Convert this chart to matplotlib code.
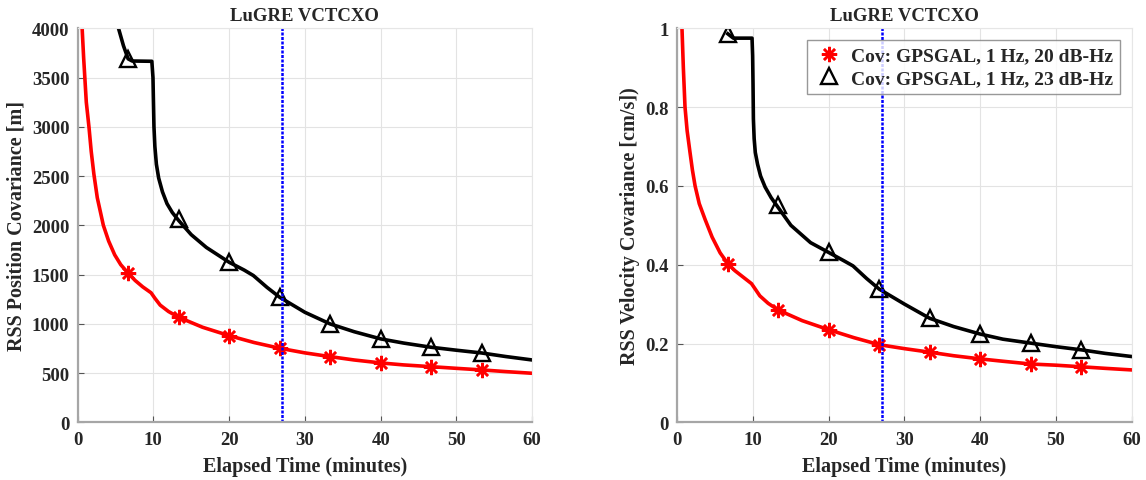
import matplotlib.pyplot as plt

plt.rcParams['font.family'] = ['Liberation Serif', 'DejaVu Serif']
plt.rcParams['font.weight'] = 'bold'

# marker epochs (minutes)
mark_t = [6.67, 13.33, 20, 26.67, 33.33, 40, 46.67, 53.33]

# position covariance, 20 dB-Hz (red)
pos20_t = [0.45, 0.6, 0.8, 1.15, 1.5, 1.8, 2.15, 2.6, 3.4, 4.1, 4.9, 5.7, 6.67, 7.6, 8.6, 9.7,
           10.2, 10.9, 12.0, 13.33, 16.5, 20, 23.3, 26.67, 30, 33.33, 36.5, 40, 43, 46.67,
           50, 53.33, 56.5, 60]
pos20 = [4300, 4000, 3700, 3250, 3000, 2750, 2520, 2280, 2000, 1840, 1700, 1600, 1515, 1440,
         1375, 1315, 1260, 1190, 1125, 1067, 965, 880, 810, 752, 705, 667, 633, 603, 583, 565,
         548, 532, 515, 498]
pos20_mk = [1515, 1067, 880, 752, 667, 603, 565, 532]

# position covariance, 23 dB-Hz (black)
pos23_t = [5.2, 5.4, 6.05, 6.67, 7.2, 9.8, 9.95, 10.0, 10.08, 10.2, 10.4, 10.7, 11.2, 11.8,
           12.5, 13.33, 15.0, 17.0, 20, 22.0, 23.2, 25.0, 26.67, 30, 33.33, 36.5, 40, 43,
           46.67, 50, 53.33, 56.5, 60]
pos23 = [4100, 4000, 3824, 3690, 3668, 3665, 3500, 3300, 3000, 2800, 2620, 2480, 2340, 2220,
         2130, 2050, 1905, 1775, 1625, 1545, 1490, 1370, 1270, 1117, 999, 920, 847, 805,
         762, 732, 704, 668, 633]
pos23_mk = [3690, 2064, 1625, 1270, 999, 847, 762, 704]

# velocity covariance, 20 dB-Hz (red)
vel20_t = [0.5, 0.62, 0.8, 1.02, 1.3, 1.68, 2.0, 2.35, 2.9, 3.67, 4.6, 5.66, 6.67, 7.6, 8.6,
           9.8, 10.3, 10.9, 12.0, 13.33, 16.5, 20, 23.3, 26.67, 30, 33.33, 36.5, 40, 43,
           46.67, 50, 53.33, 56.5, 60]
vel20 = [1.05, 1.0, 0.9, 0.8, 0.74, 0.685, 0.64, 0.6, 0.555, 0.515, 0.47, 0.43, 0.403, 0.385,
         0.37, 0.352, 0.338, 0.321, 0.302, 0.285, 0.258, 0.235, 0.215, 0.197, 0.187, 0.178,
         0.169, 0.161, 0.155, 0.148, 0.145, 0.141, 0.137, 0.133]
vel20_mk = [0.403, 0.285, 0.235, 0.197, 0.178, 0.161, 0.148, 0.141]

# velocity covariance, 23 dB-Hz (black)
vel23_t = [6.67, 7.4, 9.87, 9.95, 10.0, 10.05, 10.15, 10.3, 10.6, 11.0, 11.6, 12.4, 13.33,
           15.0, 17.6, 20, 22.0, 23.2, 25.0, 26.67, 30, 33.33, 36.5, 40, 43, 46.67, 50,
           53.33, 56.5, 60]
vel23 = [0.986, 0.975, 0.975, 0.93, 0.86, 0.77, 0.72, 0.685, 0.655, 0.625, 0.597, 0.57, 0.545,
         0.5, 0.456, 0.431, 0.41, 0.397, 0.365, 0.338, 0.3, 0.264, 0.243, 0.224, 0.211,
         0.201, 0.192, 0.184, 0.175, 0.167]
vel23_mk = [0.986, 0.551, 0.431, 0.338, 0.264, 0.224, 0.201, 0.184]

vline_t = 27
leg20 = 'Cov: GPSGAL, 1 Hz, 20 dB-Hz'
leg23 = 'Cov: GPSGAL, 1 Hz, 23 dB-Hz'

ASTER = (8, 2, 0)  # MATLAB-style asterisk


def style_axes(ax, ylim, yticks, ylabel):
    ax.set_xlim(0, 60)
    ax.set_ylim(*ylim)
    ax.set_xticks(range(0, 61, 10))
    ax.set_yticks(yticks)
    ax.grid(True, color='#e3e3e3', linewidth=0.8)
    ax.set_axisbelow(True)
    for s in ['left', 'bottom']:
        ax.spines[s].set_color('#a6a6a6')
        ax.spines[s].set_linewidth(1.6)
    for s in ['top', 'right']:
        ax.spines[s].set_color('#e6e6e6')
        ax.spines[s].set_linewidth(0.8)
    ax.tick_params(direction='in', length=4, color='#555555', labelsize=13.5,
                   labelcolor='#262626', pad=6)
    for lab in ax.get_xticklabels() + ax.get_yticklabels():
        lab.set_fontweight('bold')
    ax.set_xlabel('Elapsed Time (minutes)', fontsize=14.5, fontweight='bold', color='#262626', labelpad=6)
    ax.set_ylabel(ylabel, fontsize=14.5, fontweight='bold', color='#262626', labelpad=4)
    ax.set_title('LuGRE VCTCXO', fontsize=13.5, fontweight='bold', color='#262626', pad=6)


fig = plt.figure(figsize=(11.46, 4.81), dpi=100)
ax1 = fig.add_axes([0.0677, 0.1199, 0.3967, 0.8192])
ax2 = fig.add_axes([0.5910, 0.1199, 0.3965, 0.8192])

# left: position
ax1.plot(pos20_t, pos20, color='red', lw=2.6)
ax1.plot(pos23_t, pos23, color='black', lw=2.6)
ax1.plot(mark_t, pos20_mk, ls='none', marker=ASTER, color='red', ms=11, mew=1.8)
ax1.plot(mark_t, pos23_mk, ls='none', marker='^', mfc='none', mec='black', ms=12, mew=1.7)
ax1.axvline(vline_t, color='blue', lw=1.8, ls=(0, (1.2, 0.6)))
style_axes(ax1, (0, 4000), range(0, 4001, 500), 'RSS Position Covariance [m]')

# right: velocity
ax2.plot(vel20_t, vel20, color='red', lw=2.6)
ax2.plot(vel23_t, vel23, color='black', lw=2.6)
ax2.plot(mark_t, vel20_mk, ls='none', marker=ASTER, color='red', ms=11, mew=1.8, label=leg20)
ax2.plot(mark_t, vel23_mk, ls='none', marker='^', mfc='none', mec='black', ms=12, mew=1.7, label=leg23)
ax2.axvline(vline_t, color='blue', lw=1.8, ls=(0, (1.2, 0.6)))
style_axes(ax2, (0, 1), [0, 0.2, 0.4, 0.6, 0.8, 1], 'RSS Velocity Covariance [cm/s])')
ax2.set_yticklabels(['0', '0.2', '0.4', '0.6', '0.8', '1'], fontweight='bold')

leg = ax2.legend(loc='upper right', fontsize=14, frameon=True, fancybox=False,
                 borderpad=0.35, handletextpad=0.4, handlelength=1.5, labelspacing=0.25,
                 borderaxespad=0.6)
leg.get_frame().set_edgecolor('#7f7f7f')
leg.get_frame().set_linewidth(1.0)
for t in leg.get_texts():
    t.set_fontweight('bold')
    t.set_color('#262626')

fig.savefig('out.png', dpi=100)
